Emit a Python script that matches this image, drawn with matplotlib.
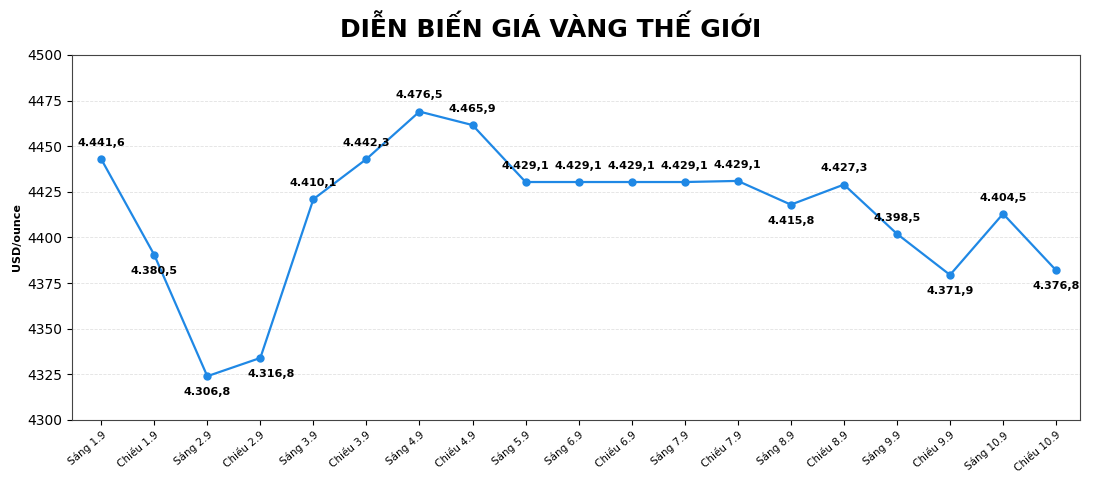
import matplotlib.pyplot as plt

sessions = ["Sáng 1.9", "Chiều 1.9", "Sáng 2.9", "Chiều 2.9", "Sáng 3.9", "Chiều 3.9",
            "Sáng 4.9", "Chiều 4.9", "Sáng 5.9", "Sáng 6.9", "Chiều 6.9", "Sáng 7.9",
            "Chiều 7.9", "Sáng 8.9", "Chiều 8.9", "Sáng 9.9", "Chiều 9.9", "Sáng 10.9", "Chiều 10.9"]
prices = [4443, 4390.5, 4324, 4334, 4421, 4443, 4469, 4461.6, 4430.4, 4430.4, 4430.4,
          4430.4, 4431, 4418, 4429, 4402, 4379.5, 4413, 4382]
labels = ["4.441,6", "4.380,5", "4.306,8", "4.316,8", "4.410,1", "4.442,3", "4.476,5",
          "4.465,9", "4.429,1", "4.429,1", "4.429,1", "4.429,1", "4.429,1", "4.415,8",
          "4.427,3", "4.398,5", "4.371,9", "4.404,5", "4.376,8"]
below = {1, 2, 3, 13, 16, 18}

fig = plt.figure(figsize=(11.02, 4.9), dpi=100)
ax = fig.add_axes([72 / 1102, 70 / 490, 1008 / 1102, 365 / 490])
x = list(range(len(sessions)))
ax.plot(x, prices, color="#1f88e5", linewidth=1.6, marker="o", markersize=5)
for i, (p, lab) in enumerate(zip(prices, labels)):
    if i in below:
        dx = 8 if i == 3 else 0
        ax.annotate(lab, (i, p), xytext=(dx, -8), textcoords="offset points",
                    ha="center", va="top", fontsize=8, fontweight="bold")
    else:
        ax.annotate(lab, (i, p), xytext=(0, 8), textcoords="offset points",
                    ha="center", va="bottom", fontsize=8, fontweight="bold")

ax.set_ylim(4300, 4500)
ax.set_yticks(range(4300, 4501, 25))
ax.set_xlim(-0.55, 18.45)
ax.set_xticks(x)
ax.set_xticklabels(sessions, rotation=40, ha="right", rotation_mode="anchor", fontsize=7.5)
ax.tick_params(axis="y", labelsize=10)
for s in ax.spines.values():
    s.set_color("#444444")
ax.set_ylabel("USD/ounce", fontsize=8, fontweight="bold")
ax.grid(axis="y", linestyle="--", color="#e2e2e2", linewidth=0.6)
ax.set_axisbelow(True)
fig.suptitle("DIỄN BIẾN GIÁ VÀNG THẾ GIỚI", y=0.97, fontsize=18, fontweight="bold")

fig.savefig("out.png", dpi=100)
